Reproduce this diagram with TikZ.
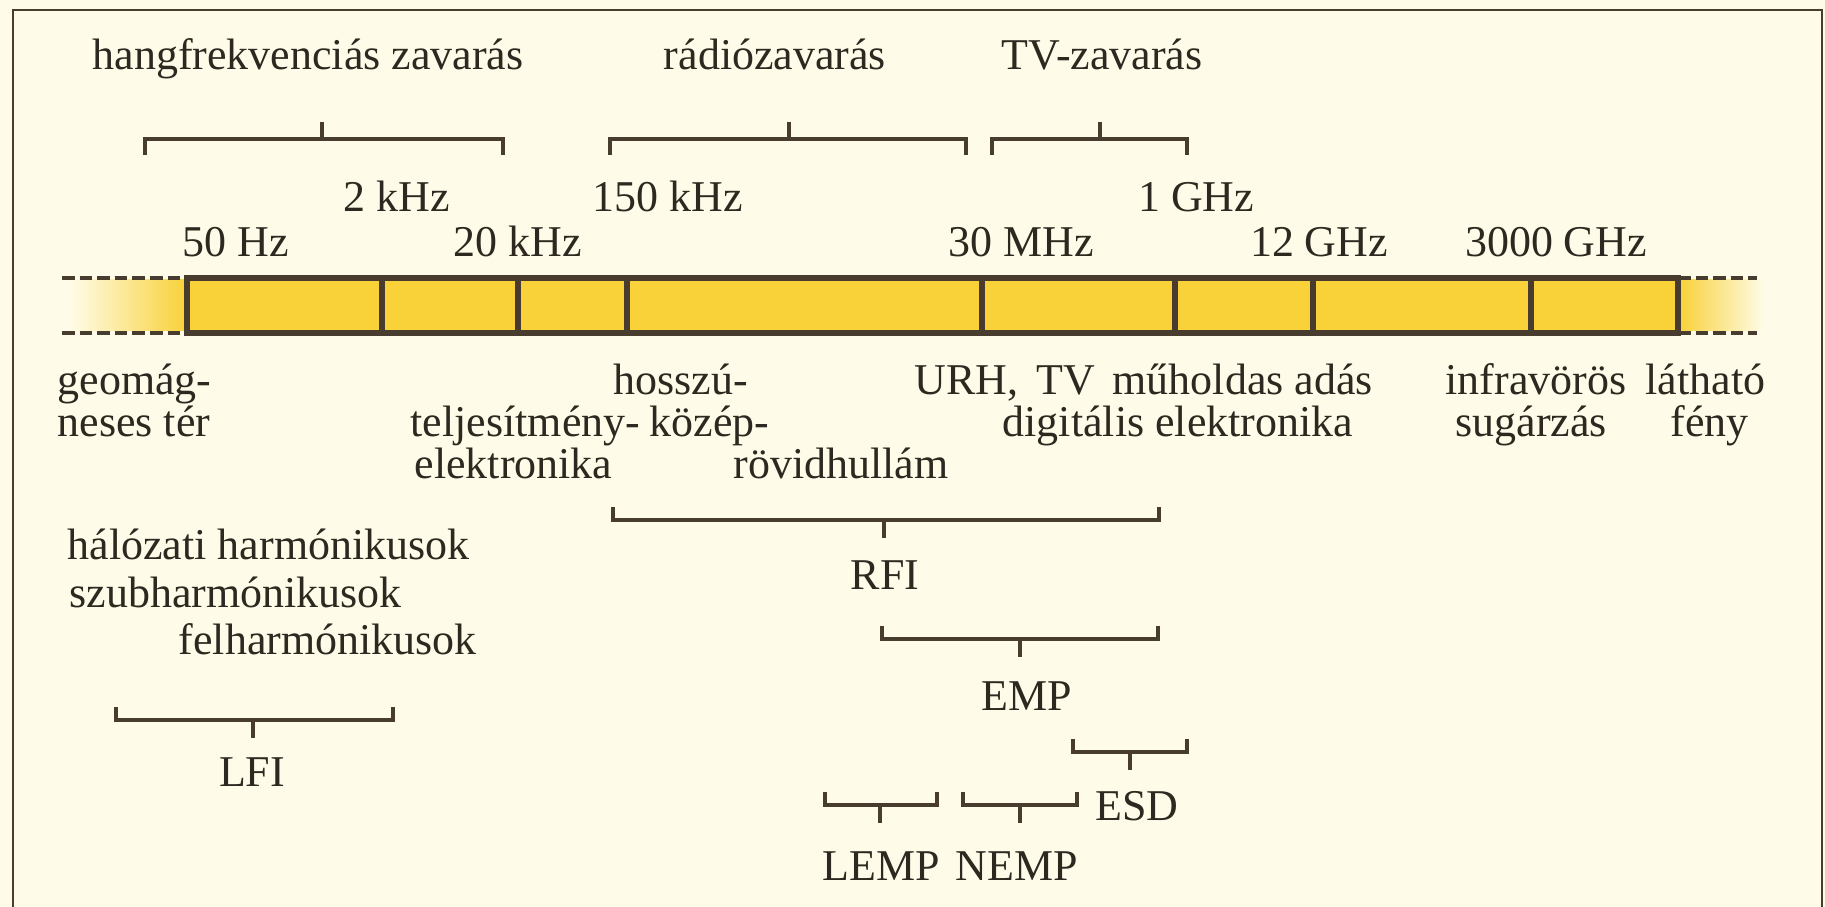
\documentclass[tikz,border=0pt]{standalone}
\usepackage{fontspec}
\setmainfont{Liberation Serif}
\usetikzlibrary{positioning}

\definecolor{paper}{RGB}{254,252,232}
\definecolor{band}{RGB}{249,209,56}
\definecolor{ink}{RGB}{72,60,46}
\definecolor{txt}{RGB}{46,40,32}

% span marks: legs down / tick up, and legs up / tick down (x1, x2, y, tick x)
\newcommand{\spandown}[4]{\draw[brk] (#1,#3+16) -- (#1,#3) -- (#2,#3) -- (#2,#3+16) (#4,#3) -- ++(0,-17);}
\newcommand{\spanup}[4]{\draw[brk] (#1,#3-13) -- (#1,#3) -- (#2,#3) -- (#2,#3-13) (#4,#3) -- ++(0,18);}

\begin{document}
\begin{tikzpicture}[x=0.01cm,y=-0.01cm,
                    lbl/.style={inner sep=0pt,text=txt,font=\fontsize{12.5}{14}\selectfont},
                    brk/.style={draw=ink,line width=1.2pt},
                    edge/.style={draw=ink,line width=1.5pt},
                    dash line/.style={draw=ink,line width=1.2pt,dash pattern=on 3.6pt off 1.4pt}]

  \useasboundingbox (0,0) rectangle (1825,907);
  \fill[paper] (0,0) rectangle (1825,907);
  \draw[ink,line width=0.8pt] (13,907) -- (13,10) -- (1822,10) -- (1822,907);

  % interference groups on top
  \node[lbl,anchor=base] (hang) at (308,70)  {hangfrekvenciás zavarás};
  \node[lbl,anchor=base] (radio) at (775,70) {rádiózavarás};
  \node[lbl,anchor=base] (tv) at (1102,70)   {TV-zavarás};
  \spandown{145}{503}{139}{322}
  \spandown{610}{966}{139}{789}
  \spandown{992}{1187}{139}{1100}

  % frequencies
  \node[lbl,anchor=base] (f2k)   at (397,212)  {2 kHz};
  \node[lbl,anchor=base] (f150k) at (668,212)  {150 kHz};
  \node[lbl,anchor=base] (f1g)   at (1196,212) {1 GHz};
  \node[lbl,anchor=base] (f50)   at (236,257)  {50 Hz};
  \node[lbl,anchor=base] (f20k)  at (518,257)  {20 kHz};
  \node[lbl,anchor=base] (f30m)  at (1021,257) {30 MHz};
  \node[lbl,anchor=base] (f12g)  at (1319,257) {12 GHz};
  \node[lbl,anchor=base] (f3000) at (1556,257) {3000 GHz};

  % the band
  \shade[left color=paper,right color=band] (70,280) rectangle (187,331);
  \shade[left color=band,right color=paper] (1678,280) rectangle (1765,331);
  \fill[band] (187,278) rectangle (1678,333);
  \foreach \y in {278,333} {
    \draw[dash line] (62,\y) -- (187,\y);
    \draw[dash line] (1678,\y) -- (1757,\y);
  }
  \draw[edge] (187,278) rectangle (1678,333);
  \foreach \x in {382,518,627,982,1175,1313,1531}
    \draw[edge] (\x,278) -- (\x,333);

  % sources under the band
  \node[lbl,anchor=base west] (geo1) at (57,395)   {geomág-};
  \node[lbl,anchor=base west] (geo2) at (57,437)   {neses tér};
  \node[lbl,anchor=base west] (tel1) at (410,437)  {teljesítmény-};
  \node[lbl,anchor=base west] (tel2) at (414,479)  {elektronika};
  \node[lbl,anchor=base west] (hul1) at (613,395)  {hosszú-};
  \node[lbl,anchor=base west] (hul2) at (649,437)  {közép-};
  \node[lbl,anchor=base west] (hul3) at (733,479)  {rövidhullám};
  \node[lbl,anchor=base west] (urh)  at (914,395)  {URH,\, TV};
  \node[lbl,anchor=base west] (sat)  at (1112,395) {műholdas adás};
  \node[lbl,anchor=base west] (dig)  at (1002,437) {digitális elektronika};
  \node[lbl,anchor=base west] (ir1)  at (1445,395) {infravörös};
  \node[lbl,anchor=base west] (ir2)  at (1455,437) {sugárzás};
  \node[lbl,anchor=base west] (vis1) at (1645,395) {látható};
  \node[lbl,anchor=base west] (vis2) at (1670,437) {fény};

  % harmonics
  \node[lbl,anchor=base west] (harm1) at (67,560)  {hálózati harmónikusok};
  \node[lbl,anchor=base west] (harm2) at (69,607)  {szubharmónikusok};
  \node[lbl,anchor=base west] (harm3) at (178,654) {felharmónikusok};

  % lower spans
  \spanup{613}{1159}{520}{884}
  \node[lbl,anchor=base] (rfi) at (885,590) {RFI};
  \spanup{882}{1158}{639}{1020}
  \node[lbl,anchor=base] (emp) at (1027,710) {EMP};
  \spanup{1073}{1187}{752}{1130}
  \node[lbl,anchor=base] (esd) at (1137,820) {ESD};
  \spanup{825}{937}{805}{880}
  \spanup{963}{1077}{805}{1020}
  \node[lbl,anchor=base] (lemp) at (881,880)  {LEMP};
  \node[lbl,anchor=base] (nemp) at (1017,880) {NEMP};
  \spanup{116}{393}{720}{253}
  \node[lbl,anchor=base] (lfi) at (252,786) {LFI};

\end{tikzpicture}
\end{document}
